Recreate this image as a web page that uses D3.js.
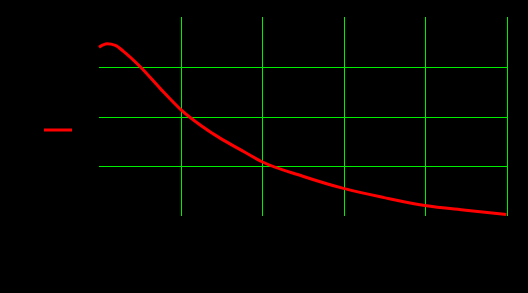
<!DOCTYPE html>
<html>
<head>
<meta charset="utf-8">
<script src="https://cdn.jsdelivr.net/npm/d3@7"></script>
<style>
  html, body { margin: 0; padding: 0; background: #000; }
  svg { display: block; }
</style>
</head>
<body>
<div id="chart"></div>
<script>
// values (arbitrary units, no labels visible)
const xTicks = [0, 1, 2, 3, 4, 5];
const yTicks = [0, 1, 2, 3, 4];
const xValues = [0, 0.1, 0.2, 0.3, 0.5, 0.75, 1, 1.25, 1.5, 1.75, 2, 2.5, 3, 3.5, 4, 4.5, 5];
const yValues = [3.39, 3.46, 3.43, 3.31, 3.01, 2.565, 2.145, 1.82, 1.55, 1.32, 1.09, 0.8, 0.555, 0.37, 0.21, 0.115, 0.03];

const W = 528, H = 293;
const margin = { top: 17, right: 21.5, bottom: 77, left: 99 };
const width = W - margin.left - margin.right;
const height = H - margin.top - margin.bottom;

const svg = d3.select("#chart").append("svg")
  .attr("width", W)
  .attr("height", H)
  .style("background", "#000");

const g = svg.append("g")
  .attr("transform", `translate(${margin.left},${margin.top})`);

const x = d3.scaleLinear().domain([0, 5]).range([0, width]);
const y = d3.scaleLinear().domain([0, 4]).range([height, 0]);

// grid: vertical lines at every x tick except the first, horizontal at inner y ticks
g.selectAll(".vgrid")
  .data(xTicks.slice(1))
  .enter().append("line")
  .attr("class", "vgrid")
  .attr("x1", d => Math.round(x(d)) + 0.5)
  .attr("x2", d => Math.round(x(d)) + 0.5)
  .attr("y1", 0)
  .attr("y2", height)
  .attr("stroke", "#00ee00")
  .attr("stroke-width", 1)
  .attr("shape-rendering", "crispEdges");

g.selectAll(".hgrid")
  .data(yTicks.slice(1, -1))
  .enter().append("line")
  .attr("class", "hgrid")
  .attr("x1", 0)
  .attr("x2", width)
  .attr("y1", d => Math.round(y(d)) + 0.5)
  .attr("y2", d => Math.round(y(d)) + 0.5)
  .attr("stroke", "#00ee00")
  .attr("stroke-width", 1)
  .attr("shape-rendering", "crispEdges");

const data = xValues.map((v, i) => ({ x: v, y: yValues[i] }));

const line = d3.line()
  .x(d => x(d.x))
  .y(d => y(d.y))
  .curve(d3.curveMonotoneX);

g.append("path")
  .datum(data)
  .attr("fill", "none")
  .attr("stroke", "#ff0000")
  .attr("stroke-width", 3)
  .attr("d", line);

// legend sample
svg.append("line")
  .attr("x1", 44)
  .attr("x2", 72)
  .attr("y1", 130)
  .attr("y2", 130)
  .attr("stroke", "#ff0000")
  .attr("stroke-width", 3);
</script>
</body>
</html>
